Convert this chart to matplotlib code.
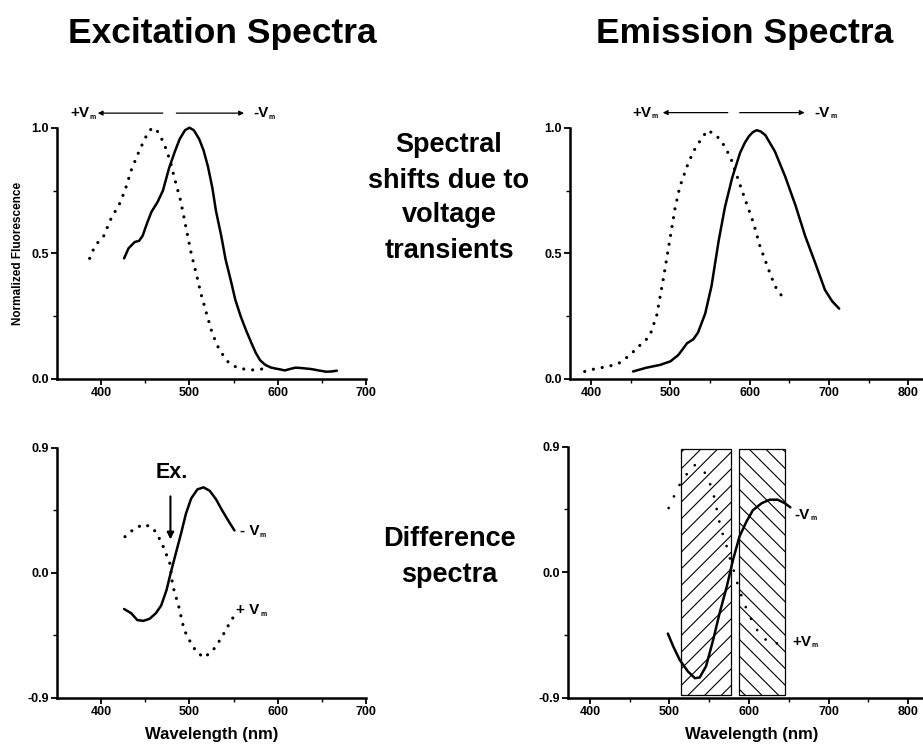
import numpy as np
import matplotlib.pyplot as plt
from matplotlib.patches import Rectangle

plt.rcParams['font.family'] = ['Liberation Sans', 'DejaVu Sans']
plt.rcParams['font.weight'] = 'bold'
plt.rcParams['axes.labelweight'] = 'bold'
plt.rcParams['hatch.linewidth'] = 0.8

# ---------------------------------------------------------------------------
# excitation spectra (normalized)
ex_wl_neg = [426, 431, 438, 443, 447, 452, 457, 464, 470, 477, 484, 489, 495, 500, 505,
             511, 516, 521, 526, 530, 536, 541, 547, 552, 558, 564, 570, 575, 580, 586,
             592, 597, 603, 608, 614, 620, 626, 631, 637, 642, 648, 655, 661, 667]
ex_fl_neg = [0.48, 0.52, 0.545, 0.55, 0.57, 0.62, 0.665, 0.705, 0.75, 0.84, 0.91, 0.955, 0.99, 1.0, 0.99,
             0.955, 0.91, 0.845, 0.76, 0.67, 0.57, 0.475, 0.39, 0.315, 0.25, 0.195, 0.145, 0.105, 0.075, 0.056,
             0.046, 0.042, 0.038, 0.034, 0.04, 0.045, 0.044, 0.042, 0.04, 0.037, 0.033, 0.029, 0.03, 0.033]

ex_wl_pos = [387, 393, 403, 412, 420, 427, 434, 441, 448, 453, 458, 463, 468, 473, 478,
             483, 490, 496, 502, 508, 513, 519, 526, 534, 545, 556, 571, 586]
ex_fl_pos = [0.48, 0.53, 0.57, 0.645, 0.69, 0.75, 0.83, 0.89, 0.945, 0.98, 1.0, 0.99, 0.96, 0.92, 0.87,
             0.80, 0.71, 0.605, 0.50, 0.415, 0.34, 0.265, 0.18, 0.115, 0.062, 0.042, 0.036, 0.041]

# emission spectra (normalized)
em_wl_neg = [453, 470, 487, 500, 510, 516, 521, 529, 535, 544, 552, 561, 569, 578, 588,
             594, 599, 604, 609, 614, 620, 632, 645, 658, 670, 683, 695, 704, 713]
em_fl_neg = [0.03, 0.045, 0.056, 0.07, 0.095, 0.12, 0.142, 0.158, 0.185, 0.26, 0.37, 0.55, 0.685, 0.80, 0.90,
             0.94, 0.965, 0.982, 0.99, 0.985, 0.97, 0.905, 0.805, 0.69, 0.57, 0.46, 0.355, 0.31, 0.28]

em_wl_pos = [392, 407, 420, 434, 449, 462, 474, 483, 491, 500, 506, 512, 521, 529, 538,
             547, 558, 569, 578, 586, 596, 605, 613, 624, 632, 645]
em_fl_pos = [0.03, 0.042, 0.049, 0.06, 0.095, 0.135, 0.17, 0.255, 0.395, 0.565, 0.68, 0.765, 0.845, 0.905, 0.95,
             0.99, 0.97, 0.925, 0.865, 0.79, 0.70, 0.62, 0.53, 0.435, 0.37, 0.31]

# difference spectra, excitation side
dex_wl_neg = [426, 434, 441, 448, 455, 462, 468, 474, 479, 485, 491, 496, 502, 509, 516,
              523, 530, 537, 545, 551]
dex_df_neg = [-0.26, -0.29, -0.34, -0.345, -0.33, -0.29, -0.235, -0.125, 0.005, 0.15, 0.295, 0.425, 0.535, 0.60, 0.615,
              0.59, 0.53, 0.45, 0.365, 0.305]

dex_wl_pos = [427, 438, 449, 459, 468, 474, 478, 481, 488, 494, 500, 508, 517, 528, 536,
              543, 551]
dex_df_pos = [0.26, 0.32, 0.35, 0.32, 0.225, 0.13, 0.065, -0.09, -0.245, -0.41, -0.485, -0.57, -0.61, -0.545, -0.47,
              -0.39, -0.305]

# difference spectra, emission side
dem_wl_neg = [498, 505, 513, 523, 532, 538, 546, 555, 563, 572, 580, 588, 597, 605, 616,
              626, 636, 645, 652]
dem_df_neg = [-0.44, -0.535, -0.63, -0.71, -0.76, -0.755, -0.675, -0.485, -0.295, -0.105, 0.09, 0.255, 0.365, 0.445, 0.495,
              0.52, 0.52, 0.495, 0.465]

dem_wl_pos = [499, 505, 511, 520, 531, 543, 550, 555, 558, 561, 564, 568, 572, 576, 580,
              584, 593, 599, 605, 613, 626, 641]
dem_df_pos = [0.46, 0.535, 0.61, 0.69, 0.77, 0.73, 0.65, 0.57, 0.49, 0.41, 0.33, 0.255, 0.185, 0.10, 0.03,
              -0.055, -0.21, -0.29, -0.365, -0.44, -0.51, -0.51]

# emission filter bands (nm)
bands = [(515, 577), (588, 645)]
band_hatch = ['//', '\\\\']

W, H = 923, 745
fig = plt.figure(figsize=(W / 100, H / 100), dpi=100)


def box(x0, x1, ytop, ybot):
    # pixel box -> figure fraction rect
    return [x0 / W, 1 - ybot / H, (x1 - x0) / W, (ybot - ytop) / H]


def style_axes(ax, yticks, yminor, ylabels):
    for s in ['top', 'right']:
        ax.spines[s].set_visible(False)
    for s in ['left', 'bottom']:
        ax.spines[s].set_linewidth(1.8)
    ax.set_yticks(yticks)
    ax.set_yticklabels(ylabels)
    ax.set_yticks(yminor, minor=True)
    ax.tick_params(which='major', direction='out', length=4, width=1.3, labelsize=9, pad=2)
    ax.tick_params(which='minor', direction='out', length=3, width=1.0)


def vm_label(ax, x, y, sign, size=11):
    # "+V" / "-V" with a tiny subscript m
    t = ax.text(x, y, sign + 'V', fontsize=size, ha='left', va='center')
    ax.annotate('m', xy=(1, 0.22), xycoords=t, xytext=(0.5, 0), textcoords='offset points',
                fontsize=size * 0.45, ha='left', va='center')


solid = dict(color='black', lw=1.8, solid_capstyle='round', solid_joinstyle='round')
dotted = dict(color='black', lw=2.3, linestyle=(0, (0.01, 2.8)), dash_capstyle='round')

# --- excitation spectra
ax1 = fig.add_axes(box(57, 366, 127.7, 379))
ax1.plot(ex_wl_pos, ex_fl_pos, clip_on=False, **dotted)
ax1.plot(ex_wl_neg, ex_fl_neg, clip_on=False, **solid)
ax1.set_xlim(350, 700)
ax1.set_ylim(0, 1.0)
ax1.set_xticks([400, 500, 600, 700])
ax1.set_xticks([450, 550, 650], minor=True)
style_axes(ax1, [0, 0.5, 1.0], [0.25, 0.75], ['0.0', '0.5', '1.0'])
ax1.set_ylabel('Normalized Fluorescence', fontsize=8.5, labelpad=5)

# --- emission spectra
ax2 = fig.add_axes(box(570, 924, 127.7, 379))
ax2.plot(em_wl_pos, em_fl_pos, clip_on=False, **dotted)
ax2.plot(em_wl_neg, em_fl_neg, clip_on=False, **solid)
ax2.set_xlim(373.5, 820)
ax2.set_ylim(0, 1.0)
ax2.set_xticks([400, 500, 600, 700, 800])
ax2.set_xticks([450, 550, 650, 750], minor=True)
style_axes(ax2, [0, 0.5, 1.0], [0.25, 0.75], ['0.0', '0.5', '1.0'])

# --- excitation difference
ax3 = fig.add_axes(box(57, 366, 447.7, 698))
ax3.plot(dex_wl_pos, dex_df_pos, clip_on=False, **dotted)
ax3.plot(dex_wl_neg, dex_df_neg, clip_on=False, **solid)
ax3.set_xlim(350, 700)
ax3.set_ylim(-0.9, 0.9)
ax3.set_xticks([400, 500, 600, 700])
ax3.set_xticks([450, 550, 650], minor=True)
style_axes(ax3, [-0.9, 0, 0.9], [-0.45, 0.45], ['-0.9', '0.0', '0.9'])
ax3.set_xlabel('Wavelength (nm)', fontsize=12, labelpad=6)

# --- emission difference
ax4 = fig.add_axes(box(568, 924, 446.7, 697.7))
for (b0, b1), hp in zip(bands, band_hatch):
    ax4.add_patch(Rectangle((b0, -0.88), b1 - b0, 1.765, facecolor='white',
                            edgecolor='black', lw=0.9, hatch=hp, zorder=1))
ax4.plot(dem_wl_pos, dem_df_pos, clip_on=False, zorder=3, color='black', lw=2.0,
         linestyle=(0, (0.01, 4.6)), dash_capstyle='round')
ax4.plot(dem_wl_neg, dem_df_neg, clip_on=False, zorder=3, **solid)
ax4.set_xlim(372.5, 820)
ax4.set_ylim(-0.9, 0.9)
ax4.set_xticks([400, 500, 600, 700, 800])
ax4.set_xticks([450, 550, 650, 750], minor=True)
style_axes(ax4, [-0.9, 0, 0.9], [-0.45, 0.45], ['-0.9', '0.0', '0.9'])
ax4.set_xlabel('Wavelength (nm)', fontsize=12, labelpad=6)
ax4.xaxis.set_label_coords(0.515, -0.115)

# voltage-direction arrows above the normalized spectra
arrow = dict(arrowstyle='-|>', color='black', lw=0.9, mutation_scale=7)
ax1.annotate('', xy=(393, 1.058), xytext=(473, 1.058), arrowprops=arrow, annotation_clip=False)
ax1.annotate('', xy=(565, 1.058), xytext=(482, 1.058), arrowprops=arrow, annotation_clip=False)
vm_label(ax1, 365, 1.058, '+')
vm_label(ax1, 572, 1.058, '-')

ax2.annotate('', xy=(487, 1.06), xytext=(576, 1.06), arrowprops=arrow, annotation_clip=False)
ax2.annotate('', xy=(673, 1.06), xytext=(584, 1.06), arrowprops=arrow, annotation_clip=False)
vm_label(ax2, 452, 1.06, '+')
vm_label(ax2, 682, 1.06, '-')

# curve labels on the difference spectra
vm_label(ax3, 557, 0.30, '- ')
vm_label(ax3, 553, -0.27, '+ ')
ax3.text(480, 0.72, 'Ex.', fontsize=15.5, ha='center', va='center')
ax3.annotate('', xy=(478.5, 0.22), xytext=(478.5, 0.57), annotation_clip=False,
             arrowprops=dict(arrowstyle='-|>', color='black', lw=1.5, mutation_scale=10))

vm_label(ax4, 657, 0.41, '-')
vm_label(ax4, 654, -0.50, '+')

# headings
fig.text(222 / W, 1 - 33 / H, 'Excitation Spectra', fontsize=25.5, ha='center', va='center')
fig.text(745 / W, 1 - 33 / H, 'Emission Spectra', fontsize=25.5, ha='center', va='center')
fig.text(449 / W, 1 - 198 / H, 'Spectral\nshifts due to\nvoltage\ntransients', fontsize=19.5,
         ha='center', va='center', linespacing=1.45)
fig.text(449 / W, 1 - 557 / H, 'Difference\nspectra', fontsize=19.5,
         ha='center', va='center', linespacing=1.45)

fig.savefig('out.png', dpi=100)
